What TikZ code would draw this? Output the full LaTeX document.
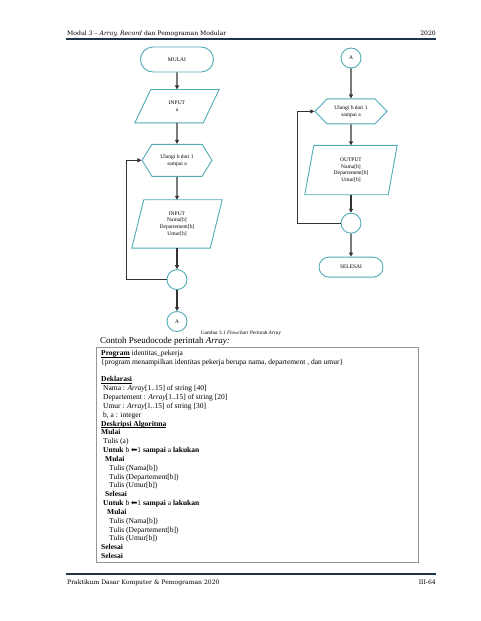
\documentclass[tikz,border=0pt]{standalone}
\usepackage{fontspec}
\setmainfont{Liberation Serif}
\newfontfamily\hdrfont{DejaVu Serif}
\newfontfamily\symfont{DejaVu Sans}
\usetikzlibrary{positioning, arrows.meta, shapes.geometric, shapes.misc, shapes.symbols}
\definecolor{flowteal}{RGB}{80,172,182}
\definecolor{rulenavy}{RGB}{30,52,72}
\definecolor{boxgray}{RGB}{150,150,150}
% jajaran genjang di sekeliling node persegi: #1 nama node, #2 kemiringan
\newcommand{\jajar}[2]{\draw[parledge] ([xshift=#2]#1.north west) -- (#1.north east) -- ([xshift=-#2]#1.south east) -- (#1.south west) -- cycle;}
\newcommand{\garis}[1]{\underline{\smash{\textbf{#1}}}}

\begin{document}
\begin{tikzpicture}[x=1pt, y=-1pt,
  flowline/.style={draw=flowteal, fill=white, line width=0.9pt, align=center, font=\fontsize{5.5}{6.8}\selectfont, inner sep=1pt},
  term/.style={flowline, rounded rectangle, minimum width=75pt, minimum height=25pt},
  parl/.style={rectangle, align=center, font=\fontsize{5.5}{6.8}\selectfont, inner sep=1pt},
  parledge/.style={draw=flowteal, line width=0.9pt, line join=miter},
  loopbox/.style={flowline, signal, signal to=west and east, signal pointer angle=#1},
  conn/.style={flowline, circle, minimum size=20pt},
  arrow/.style={-{Triangle[length=4pt, width=4pt]}, line width=1.1pt, draw=black!80},
  back/.style={-{Triangle[length=4pt, width=4pt]}, line width=0.8pt, draw=black!80},
  pagetext/.style={inner sep=0, font=\hdrfont\fontsize{6.1}{8}\selectfont},
  pagerule/.style={draw=rulenavy, line width=2pt}
]
\fill[white] (0,0) rectangle (480,621);
\useasboundingbox (0,0) rectangle (480,621);

% kepala dan kaki halaman
\node[pagetext, anchor=base west] (hdrleft) at (67,35) {Modul 3 – \textit{Array, Record} dan Pemograman Modular};
\node[pagetext, anchor=base east] (hdrright) at (436,35) {2020};
\draw[pagerule] (66,39) -- (436,39);
\draw[pagerule] (66,574) -- (436,574);
\node[pagetext, anchor=base west] (ftrleft) at (67,584) {Praktikum Dasar Komputer \& Pemograman 2020};
\node[pagetext, anchor=base east] (ftrright) at (436,584) {III-64};

% flowchart kiri
\node[term] (mulai) at (177,59.5) {MULAI};
\node[parl, minimum width=84pt, minimum height=33pt, below=17pt of mulai] (inputa) {INPUT\\a};
\node[loopbox=116, minimum width=70pt, minimum height=32pt, below=21pt of inputa] (ulang1) {Ulangi b dari 1\\sampai a};
\node[parl, minimum width=90pt, minimum height=48pt, below=23pt of ulang1] (inputnama) {INPUT\\Nama[b]\\Departement[b]\\Umur[b]};
\node[conn, below=21pt of inputnama] (join1) {};
\node[conn, below=21pt of join1] (keA) {A};
\jajar{inputa}{16}
\jajar{inputnama}{12}

\draw[arrow] (mulai) -- (inputa);
\draw[arrow] (inputa) -- (ulang1);
\draw[arrow] (ulang1) -- (inputnama);
\draw[arrow] (inputnama) -- (join1);
\draw[arrow] (join1) -- (keA);
\draw[back] (join1.west) -- ++(-40,0) |- (ulang1.west);

% flowchart kanan
\node[conn] (dariA) at (351,58) {A};
\node[loopbox=92, minimum width=72pt, minimum height=25pt, below=30pt of dariA] (ulang2) {Ulangi b dari 1\\sampai a};
\node[parl, minimum width=92pt, minimum height=49pt, below=21pt of ulang2] (output) {OUTPUT\\Nama[b]\\Departement[b]\\Umur[b]};
\node[conn, below=18pt of output] (join2) {};
\node[term, minimum width=66pt, minimum height=20pt, below=23pt of join2] (selesai) {SELESAI};
\jajar{output}{9}

\draw[arrow] (dariA) -- (ulang2);
\draw[arrow] (ulang2) -- (output);
\draw[arrow] (output) -- (join2);
\draw[arrow] (join2) -- (selesai);
\draw[back] (join2.west) -- ++(-43,0) |- (ulang2.west);

% keterangan dan pseudocode
\node[inner sep=0, font=\fontsize{5.2}{6}\selectfont] (caption) at (241,333) {Gambar 3.1 \textit{Flowchart} Perintah \textit{Array}};
\node[inner sep=0, anchor=west, font=\fontsize{9}{11}\selectfont] (contoh) at (100,341) {Contoh Pseudocode perintah \textit{Array:}};
\node[draw=boxgray, line width=0.6pt, minimum width=322pt, minimum height=215pt, inner sep=0] (codebox) at (257,454.5) {};
\node[inner sep=0, anchor=north west, align=left, font=\fontsize{7.5}{8.83}\selectfont] (code) at (101,350) {%
\garis{Program} identitas\_pekerja\\
\{program menampilkan identitas pekerja berupa nama, departement , dan umur\}\\
\mbox{}\\
\garis{Deklarasi}\\
\hspace*{2pt}Nama : \textit{Array}[1..15] of string [40]\\
\hspace*{2pt}Departement : \textit{Array}[1..15] of string [20]\\
\hspace*{2pt}Umur : \textit{Array}[1..15] of string [30]\\
\hspace*{2pt}b, a : integer\\
\garis{Deskripsi Algoritma}\\
\textbf{Mulai}\\
\hspace*{2pt}Tulis (a)\\
\hspace*{2pt}\textbf{Untuk} b {\symfont ⬅}1 \textbf{sampai} a \textbf{lakukan}\\
\hspace*{4pt}\textbf{Mulai}\\
\hspace*{8pt}Tulis (Nama[b])\\
\hspace*{8pt}Tulis (Departement[b])\\
\hspace*{8pt}Tulis (Umur[b])\\
\hspace*{4pt}\textbf{Selesai}\\
\hspace*{2pt}\textbf{Untuk} b {\symfont ⬅}1 \textbf{sampai} a \textbf{lakukan}\\
\hspace*{6pt}\textbf{Mulai}\\
\hspace*{8pt}Tulis (Nama[b])\\
\hspace*{8pt}Tulis (Departement[b])\\
\hspace*{8pt}Tulis (Umur[b])\\
\textbf{Selesai}\\
\textbf{Selesai}};
\end{tikzpicture}
\end{document}
